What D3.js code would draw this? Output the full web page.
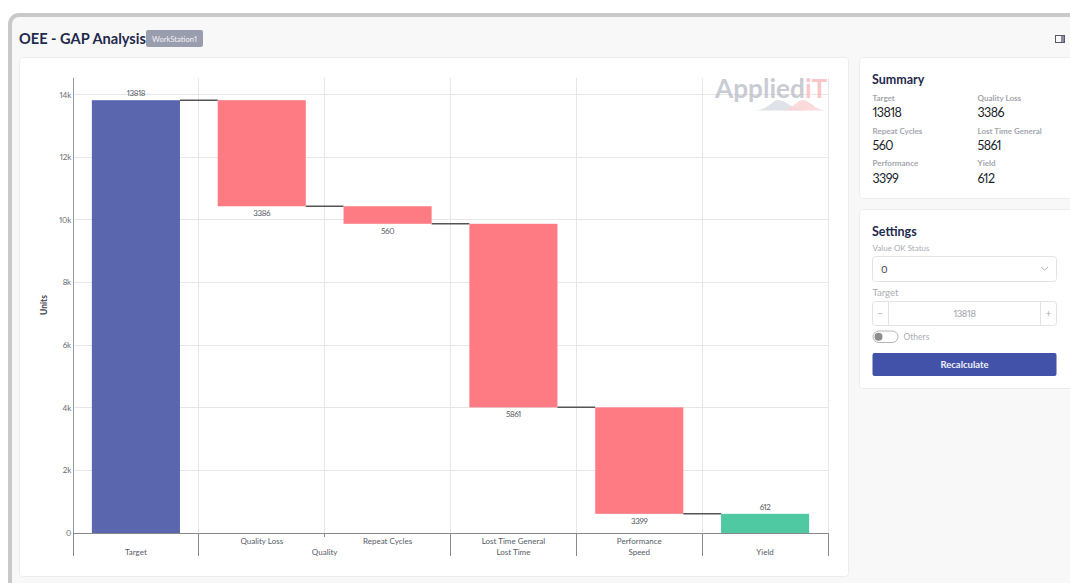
<!DOCTYPE html>
<html>
<head>
<meta charset="utf-8">
<title>OEE - GAP Analysis</title>
<script src="https://cdn.jsdelivr.net/npm/d3@7"></script>
<style>
html, body { margin: 0; padding: 0; background: #fff; overflow: hidden; }
svg { display: block; }
text { font-family: Lato, "Noto Sans", sans-serif; font-variant-numeric: proportional-nums; }
</style>
</head>
<body>
<script>
//chart values
var categories = ["Target", "Quality Loss", "Repeat Cycles", "Lost Time General", "Performance", "Yield"];
var groupLabels = ["Target", "Quality", "Lost Time", "Speed", "Yield"];
var values = [13818, 3386, 560, 5861, 3399, 612];
var kinds = ["total", "loss", "loss", "loss", "loss", "result"];
var yTicks = [0, 2000, 4000, 6000, 8000, 10000, 12000, 14000];
var summaryLabels = ["Target", "Quality Loss", "Repeat Cycles", "Lost Time General", "Performance", "Yield"];
var summaryValues = ["13818", "3386", "560", "5861", "3399", "612"];

var colors = {total: "#5a67ae", loss: "#ff7b83", result: "#4ec9a2"};

var width = 1070, height = 583;
var svg = d3.select("body").append("svg").attr("width", width).attr("height", height);

//page frame and cards
svg.append("rect").attr("x", 10).attr("y", 15).attr("width", 1090).attr("height", 600).attr("rx", 9)
    .attr("fill", "#f8f8f9").attr("stroke", "#c9c9c9").attr("stroke-width", 4);

function card(x, y, w, h){
    svg.append("rect").attr("x", x + 0.5).attr("y", y + 0.5).attr("width", w).attr("height", h).attr("rx", 3)
        .attr("fill", "#fff").attr("stroke", "#ececee");
}
card(19, 57, 829, 519);
card(859, 57, 230, 141);
card(859, 209, 230, 179);

function label(x, y, str, size, color, weight, anchor){
    return svg.append("text").attr("x", x).attr("y", y).text(str)
        .attr("font-size", size).attr("fill", color)
        .attr("font-weight", weight || 400).attr("text-anchor", anchor || "start");
}

//header
label(19, 44, "OEE - GAP Analysis", 14.6, "#1f2a4d", 700);
svg.append("rect").attr("x", 146).attr("y", 30).attr("width", 57).attr("height", 17).attr("rx", 2).attr("fill", "#9a9dae");
label(174.5, 41.5, "WorkStation1", 7.6, "#f2f2f5", 400, "middle");
svg.append("rect").attr("x", 1055.5).attr("y", 35.5).attr("width", 9).attr("height", 7).attr("fill", "none").attr("stroke", "#555a6a");
svg.append("rect").attr("x", 1061).attr("y", 36).attr("width", 3).attr("height", 6).attr("fill", "#8a8e9c");

//scales
var x = d3.scaleBand().domain(categories).range([73, 828]).paddingInner(0.3).paddingOuter(0.15);
var y = d3.scaleLinear().domain([0, 14000]).range([533, 94.5]);
var step = x.step();
var edges = d3.range(categories.length + 1).map(function(i){ return 73 + i * step; });

//running level for the waterfall
var level = 0;
var bars = categories.map(function(c, i){
    var top, bottom;
    if (kinds[i] == "total"){ top = values[i]; bottom = 0; level = top; }
    else if (kinds[i] == "loss"){ top = level; bottom = level - values[i]; level = bottom; }
    else { top = values[i]; bottom = 0; }
    return {name: c, value: values[i], kind: kinds[i], top: top, bottom: bottom};
});

//grid
svg.selectAll(".gridH").data(yTicks.slice(1)).enter().append("line")
    .attr("class", "gridH")
    .attr("x1", 73).attr("x2", 828)
    .attr("y1", function(d){ return Math.floor(y(d)) + 0.5; })
    .attr("y2", function(d){ return Math.floor(y(d)) + 0.5; })
    .attr("stroke", "#e6e6e6");
svg.selectAll(".gridV").data(edges.slice(1)).enter().append("line")
    .attr("class", "gridV")
    .attr("x1", function(d){ return Math.floor(d) + 0.5; })
    .attr("x2", function(d){ return Math.floor(d) + 0.5; })
    .attr("y1", 78).attr("y2", 533)
    .attr("stroke", "#e6e6e6");

//logo, see-through so the grid shows behind it
var logo = svg.append("g").attr("class", "logo");
logo.append("path").attr("d", "M755,110.5 C768,110 772,100 778,100 C786,100 792,110 806,110.5 Z").attr("fill", "#dfe3e8");
logo.append("path").attr("d", "M782,110.5 C792,110 797,100 803,100 C810,100 814,110 826,110.5 Z").attr("fill", "#fad3d6").attr("opacity", 0.85);
var logoText = logo.append("text").attr("x", 715).attr("y", 98).attr("font-size", 26.2).attr("font-weight", 700)
    .attr("fill-opacity", 0.85);
logoText.append("tspan").text("Applied").attr("fill", "#c0c2cc");
logoText.append("tspan").text("iT").attr("fill", "#f8bcc0");

//connectors between the bars
svg.selectAll(".connector").data(bars.slice(0, -1)).enter().append("line")
    .attr("class", "connector")
    .attr("x1", function(d){ return x(d.name) + x.bandwidth(); })
    .attr("x2", function(d, i){ return x(bars[i + 1].name); })
    .attr("y1", function(d){ return y(d.kind == "total" ? d.top : d.bottom); })
    .attr("y2", function(d){ return y(d.kind == "total" ? d.top : d.bottom); })
    .attr("stroke", "#555").attr("stroke-width", 1.5);

//bars
svg.selectAll(".bar").data(bars).enter().append("rect")
    .attr("class", "bar")
    .attr("x", function(d){ return x(d.name); })
    .attr("width", x.bandwidth())
    .attr("y", function(d){ return y(d.top); })
    .attr("height", function(d){ return y(d.bottom) - y(d.top); })
    .attr("fill", function(d){ return colors[d.kind]; });

//value labels
svg.selectAll(".valueLabel").data(bars).enter().append("text")
    .attr("class", "valueLabel")
    .attr("x", function(d){ return x(d.name) + x.bandwidth() / 2; })
    .attr("y", function(d){ return d.kind == "loss" ? y(d.bottom) + 10 : y(d.top) - 4; })
    .attr("text-anchor", "middle").attr("font-size", 8).attr("letter-spacing", -0.4).attr("fill", "#555c66")
    .text(function(d){ return d.value; });

//y axis
var yAxis = d3.axisLeft(y).tickValues(yTicks).tickSize(0).tickPadding(2)
    .tickFormat(function(d){ return d == 0 ? "0" : (d / 1000) + "k"; });
var yG = svg.append("g").attr("transform", "translate(73,0)").call(yAxis);
yG.select(".domain").remove();
yG.selectAll("text").attr("font-size", 8).attr("letter-spacing", -0.2).attr("fill", "#666c75");
svg.append("line").attr("x1", 73.5).attr("x2", 73.5).attr("y1", 78).attr("y2", 533).attr("stroke", "#999");
label(0, 0, "Units", 8.5, "#3d434d", 700, "middle").attr("transform", "translate(47,305) rotate(-90)");

//x axis, two levels, clipped at the bottom like the original
svg.append("line").attr("x1", 73).attr("x2", 828).attr("y1", 533.5).attr("y2", 533.5).attr("stroke", "#888");
var groupEdges = [0, 1, 3, 4, 5, 6];
svg.selectAll(".groupEdge").data(groupEdges).enter().append("line")
    .attr("class", "groupEdge")
    .attr("x1", function(d){ return Math.floor(edges[d]) + 0.5; })
    .attr("x2", function(d){ return Math.floor(edges[d]) + 0.5; })
    .attr("y1", 533).attr("y2", 556)
    .attr("stroke", "#8a8a8a");
svg.append("line").attr("x1", Math.floor(edges[2]) + 0.5).attr("x2", Math.floor(edges[2]) + 0.5)
    .attr("y1", 533).attr("y2", 537).attr("stroke", "#8a8a8a");

svg.selectAll(".catLabel").data(bars.slice(1, 5)).enter().append("text")
    .attr("class", "catLabel")
    .attr("x", function(d){ return x(d.name) + x.bandwidth() / 2; })
    .attr("y", 544).attr("text-anchor", "middle").attr("font-size", 8).attr("fill", "#555c66")
    .text(function(d){ return d.name; });

var clip = svg.append("clipPath").attr("id", "xClip");
clip.append("rect").attr("x", 60).attr("y", 533).attr("width", 780).attr("height", 23);
var groupCenters = [
    (edges[0] + edges[1]) / 2, (edges[1] + edges[3]) / 2, (edges[3] + edges[4]) / 2,
    (edges[4] + edges[5]) / 2, (edges[5] + edges[6]) / 2
];
svg.append("g").attr("clip-path", "url(#xClip)")
    .selectAll(".groupLabel").data(groupLabels).enter().append("text")
    .attr("class", "groupLabel")
    .attr("x", function(d, i){ return groupCenters[i]; })
    .attr("y", 555).attr("text-anchor", "middle").attr("font-size", 8).attr("fill", "#555c66")
    .text(function(d){ return d; });

//summary card
label(872, 84, "Summary", 12.5, "#1f2a4d", 700);
summaryLabels.forEach(function(s, i){
    var cx = i % 2 == 0 ? 872.5 : 977.5;
    var row = Math.floor(i / 2);
    label(cx, 101 + row * 32.7, s, 8, "#a3a6ad", 700);
    label(cx, 117 + row * 32.9, summaryValues[i], 12.5, "#1b1f2a", 400).attr("letter-spacing", -0.6);
});

//settings card
label(872, 236, "Settings", 12.5, "#1f2a4d", 700);
label(872.5, 251, "Value OK Status", 8, "#a9acb2");
svg.append("rect").attr("x", 872.5).attr("y", 256.5).attr("width", 184).attr("height", 25).attr("rx", 3)
    .attr("fill", "#fff").attr("stroke", "#e3e3e6");
label(881, 272.5, "0", 10, "#3a3d45");
svg.append("path").attr("d", "M1041,267 L1044.5,270 L1048,267").attr("fill", "none").attr("stroke", "#a8afc4");

label(872.5, 296, "Target", 9.5, "#a9acb2");
svg.append("rect").attr("x", 872.5).attr("y", 301.5).attr("width", 184).attr("height", 24).attr("rx", 3)
    .attr("fill", "#fff").attr("stroke", "#e3e3e6");
svg.append("line").attr("x1", 888.5).attr("x2", 888.5).attr("y1", 302).attr("y2", 325).attr("stroke", "#e3e3e6");
svg.append("line").attr("x1", 1040.5).attr("x2", 1040.5).attr("y1", 302).attr("y2", 325).attr("stroke", "#e3e3e6");
label(880.5, 317, "\u2212", 10, "#a9acb2", 400, "middle");
label(1048.5, 317, "+", 10, "#a9acb2", 400, "middle");
label(964.5, 317, "13818", 9.5, "#a0a3aa", 400, "middle").attr("letter-spacing", -0.4);

svg.append("rect").attr("x", 873).attr("y", 331).attr("width", 25).attr("height", 11.5).attr("rx", 5.75)
    .attr("fill", "#fff").attr("stroke", "#b5b5b8");
svg.append("circle").attr("cx", 878.5).attr("cy", 336.7).attr("r", 4).attr("fill", "#8d8d90");
label(903.5, 340, "Others", 8.5, "#a9acb2");

svg.append("rect").attr("x", 872.5).attr("y", 353).attr("width", 184).attr("height", 23).attr("rx", 2).attr("fill", "#4152a8");
label(964.5, 368, "Recalculate", 9.5, "#f0f1f8", 700, "middle");
</script>
</body>
</html>
